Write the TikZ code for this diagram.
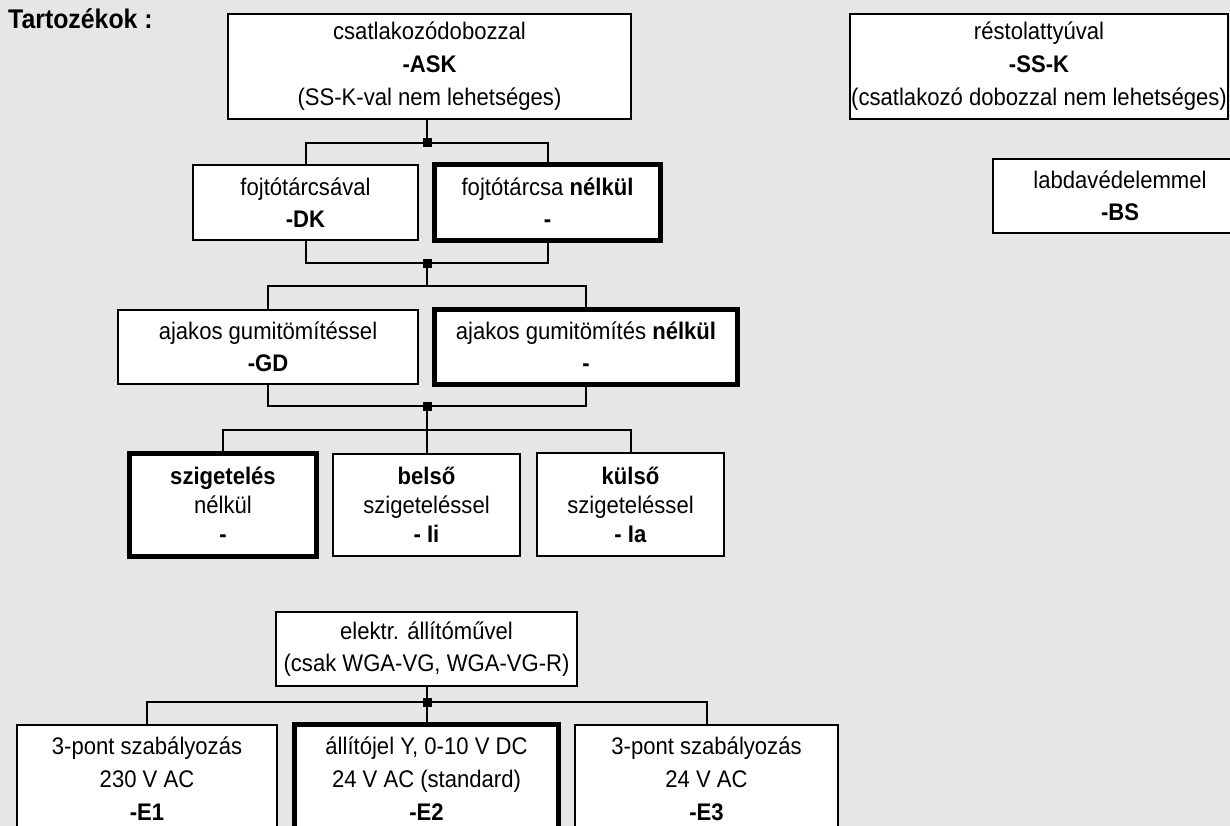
\documentclass[tikz,border=0pt]{standalone}
\usepackage{fontspec}
\setmainfont{Liberation Sans}[FakeStretch=0.92]
\definecolor{bgc}{RGB}{230,230,230}
\begin{document}
\begin{tikzpicture}[x=1pt,y=-1pt,
  box/.style={draw, line width=2pt, fill=white, inner sep=0pt, align=center,
    font=\fontsize{24}{32}\selectfont},
  thickbox/.style={box, line width=5pt},
  junc/.style={fill=black, draw=none, inner sep=0pt, minimum size=9pt},
  conn/.style={line width=2pt}]
\fill[bgc] (0,0) rectangle (1230,826);
\useasboundingbox (0,0) rectangle (1230,826);
\clip (0,0) rectangle (1230,826);

\node[anchor=base west, inner sep=0pt, font=\bfseries\fontsize{27}{30}\selectfont] (title) at (8,29) {Tartozékok :};

\node[box, minimum width=403pt, minimum height=105pt, font=\fontsize{24}{33}\selectfont] (ask) at (429.5,66.5)
  {csatlakozódobozzal\\\textbf{-ASK}\\(SS-K-val nem lehetséges)};
\node[box, minimum width=378pt, minimum height=105pt, font=\fontsize{24}{33}\selectfont] (ssk) at (1039,66.5)
  {réstolattyúval\\\textbf{-SS-K}\\(csatlakozó dobozzal nem lehetséges)};

\node[box, minimum width=225pt, minimum height=75pt] (dk) at (305.5,202.5)
  {fojtótárcsával\\\textbf{-DK}};
\node[thickbox, minimum width=226pt, minimum height=76pt] (dkn) at (547.5,202.5)
  {fojtótárcsa \textbf{nélkül}\\\textbf{-}};
\node[box, minimum width=254pt, minimum height=74pt] (bs) at (1120,196)
  {labdavédelemmel\\\textbf{-BS}};

\node[box, minimum width=300pt, minimum height=74pt] (gd) at (268,347)
  {ajakos gumitömítéssel\\\textbf{-GD}};
\node[thickbox, minimum width=303pt, minimum height=75pt] (gdn) at (586,347)
  {ajakos gumitömítés \textbf{nélkül}\\\textbf{-}};

\node[thickbox, minimum width=187pt, minimum height=103pt, font=\fontsize{24}{29}\selectfont] (szig) at (223,505)
  {\textbf{szigetelés}\\nélkül\\\textbf{-}};
\node[box, minimum width=187pt, minimum height=102pt, font=\fontsize{24}{29}\selectfont] (bel) at (426.5,505)
  {\textbf{belső}\\szigeteléssel\\\textbf{- Ii}};
\node[box, minimum width=187pt, minimum height=103pt, font=\fontsize{24}{29}\selectfont] (kul) at (630.5,504.5)
  {\textbf{külső}\\szigeteléssel\\\textbf{- Ia}};

\node[box, minimum width=301pt, minimum height=74pt] (el) at (426.5,649)
  {elektr. állítóművel\\(csak WGA-VG, WGA-VG-R)};

\node[box, minimum width=260pt, minimum height=108pt, font=\fontsize{24}{33}\selectfont] (e1) at (147,779)
  {3-pont szabályozás\\230 V AC\\\textbf{-E1}};
\node[thickbox, minimum width=264pt, minimum height=109pt, font=\fontsize{24}{33}\selectfont] (e2) at (426.5,779)
  {állítójel Y, 0-10 V DC\\24 V AC (standard)\\\textbf{-E2}};
\node[box, minimum width=263pt, minimum height=108pt, font=\fontsize{24}{33}\selectfont] (e3) at (706.5,779)
  {3-pont szabályozás\\24 V AC\\\textbf{-E3}};

% connectors
\node[junc] (j1) at (427,143) {};
\draw[conn] (ask.south -| j1) -- (j1.center);
\draw[conn] (dk.north) |- (j1.center) -| (dkn.north);

\node[junc] (j2) at (427,263) {};
\draw[conn] (dk.south) |- (j2.center) -| (dkn.south);
\coordinate (b2) at (427,286);
\draw[conn] (j2.center) -- (b2);
\draw[conn] (gd.north) |- (b2) -| (gdn.north);

\node[junc] (j3) at (427,406) {};
\draw[conn] (gd.south) |- (j3.center) -| (gdn.south);
\coordinate (b3) at (427,430);
\draw[conn] (j3.center) -- (b3);
\draw[conn] (szig.north) |- (b3) -| (kul.north);
\draw[conn] (b3) -- (bel.north -| b3);

\node[junc] (j4) at (427,702) {};
\draw[conn] (el.south -| j4) -- (j4.center);
\draw[conn] (e1.north) |- (j4.center) -| (e3.north);
\draw[conn] (j4.center) -- (e2.north -| j4);
\end{tikzpicture}
\end{document}
